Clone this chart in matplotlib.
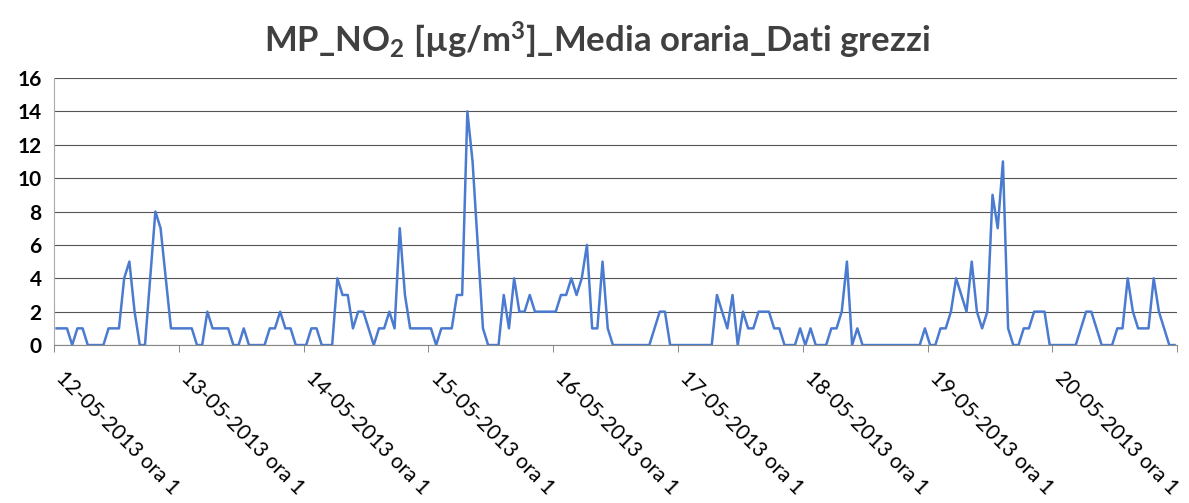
#!/usr/bin/env python3
import numpy as np
import matplotlib
matplotlib.use("Agg")
import matplotlib.pyplot as plt
import matplotlib.transforms as mtransforms

plt.rcParams['font.family'] = ['Lato', 'DejaVu Sans']
plt.rcParams['mathtext.default'] = 'regular'

# --- Data: hourly NO2, 12-05-2013 ora 1 .. 20-05-2013 ora 24 ---
day_labels = [f"{d}-05-2013 ora 1" for d in range(12, 21)]
no2 = [
    1, 1, 1, 0, 1, 1, 0, 0, 0, 0,
    1, 1, 1, 4, 5, 2, 0, 0, 4, 8,
    7, 4, 1, 1, 1, 1, 1, 0, 0, 2,
    1, 1, 1, 1, 0, 0, 1, 0, 0, 0,
    0, 1, 1, 2, 1, 1, 0, 0, 0, 1,
    1, 0, 0, 0, 4, 3, 3, 1, 2, 2,
    1, 0, 1, 1, 2, 1, 7, 3, 1, 1,
    1, 1, 1, 0, 1, 1, 1, 3, 3, 14,
    11, 6, 1, 0, 0, 0, 3, 1, 4, 2,
    2, 3, 2, 2, 2, 2, 2, 3, 3, 4,
    3, 4, 6, 1, 1, 5, 1, 0, 0, 0,
    0, 0, 0, 0, 0, 1, 2, 2, 0, 0,
    0, 0, 0, 0, 0, 0, 0, 3, 2, 1,
    3, 0, 2, 1, 1, 2, 2, 2, 1, 1,
    0, 0, 0, 1, 0, 1, 0, 0, 0, 1,
    1, 2, 5, 0, 1, 0, 0, 0, 0, 0,
    0, 0, 0, 0, 0, 0, 0, 1, 0, 0,
    1, 1, 2, 4, 3, 2, 5, 2, 1, 2,
    9, 7, 11, 1, 0, 0, 1, 1, 2, 2,
    2, 0, 0, 0, 0, 0, 0, 1, 2, 2,
    1, 0, 0, 0, 1, 1, 4, 2, 1, 1,
    1, 4, 2, 1, 0, 0,
]
hours_per_day = 24

# --- Plot ---
fig, ax = plt.subplots(figsize=(11.89, 5.03), dpi=100)
fig.subplots_adjust(left=0.0454, right=0.99, top=0.845, bottom=0.314)

x = np.arange(len(no2))
ax.plot(x, no2, color='#4a7bd0', lw=1.8, solid_joinstyle='round')

ax.set_xlim(-0.5, len(no2) - 0.5)
ax.set_ylim(0, 16)
ax.set_yticks(range(0, 17, 2))
ax.yaxis.grid(True, color='#555555', lw=0.8)
ax.set_axisbelow(True)
ax.tick_params(axis='y', length=0, labelsize=15, pad=9)
for lab in ax.get_yticklabels():
    lab.set_fontweight('bold')

ax.set_xticks(np.arange(0, len(no2), hours_per_day))
ax.set_xticklabels(day_labels, rotation=-45, ha='left', va='top',
                   rotation_mode='anchor', fontsize=15)
ax.set_xticks(np.arange(-0.5, len(no2), hours_per_day), minor=True)
ax.tick_params(axis='x', which='major', length=0, pad=16)
ax.tick_params(axis='x', which='minor', length=5, color='#777777')
shift = mtransforms.ScaledTranslation(10 / 100, 0, fig.dpi_scale_trans)
for lab in ax.get_xticklabels():
    lab.set_transform(lab.get_transform() + shift)

for side in ('top', 'right'):
    ax.spines[side].set_visible(False)
ax.spines['left'].set_color('#aaaaaa')
ax.spines['bottom'].set_color('#888888')

fig.text(0.502, 0.92, "MP_NO$_2$ [µg/m$^3$]_Media oraria_Dati grezzi",
         ha='center', va='center', fontsize=25, fontweight='bold', color='#404040')

fig.savefig("out.png", dpi=100)
